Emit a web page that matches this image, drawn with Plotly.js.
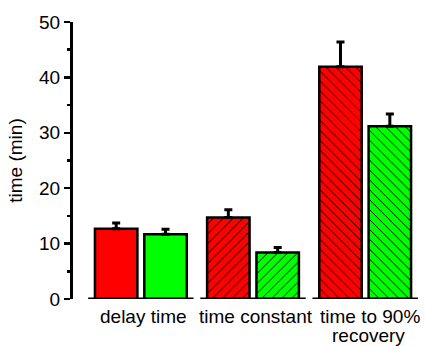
<!DOCTYPE html>
<html>
<head>
<meta charset="utf-8">
<script src="https://cdn.plot.ly/plotly-3.0.1.min.js"></script>
<style>html,body{margin:0;padding:0;background:#fff;}#chart{width:425px;height:346px;}</style>
</head>
<body>
<div id="chart"></div>
<script>
const categories = ["delay time", "time constant", "time to 90%<br>recovery"];
const redValues = [12.7, 14.7, 41.9];
const redErrors = [1.0, 1.4, 4.5];
const greenValues = [11.7, 8.4, 31.2];
const greenErrors = [0.9, 0.9, 2.2];
const patternShapes = ["", "/", "\\"];
const yTickVals = [0, 10, 20, 30, 40, 50];

function barTrace(vals, errs, color) {
  return {
    type: "bar",
    x: categories,
    y: vals,
    marker: {
      color: color,
      line: {color: "#000", width: 2.5},
      pattern: {shape: patternShapes, fgcolor: "#000", bgcolor: color, size: 7, solidity: 0.14}
    },
    error_y: {
      type: "data", symmetric: false, array: errs, arrayminus: errs.map(() => 0),
      color: "#000", thickness: 3, width: 4
    },
    hoverinfo: "none"
  };
}

const data = [barTrace(redValues, redErrors, "#ff0000"), barTrace(greenValues, greenErrors, "#00ff00")];

const shapes = categories.map((c, i) => ({
  type: "line", xref: "x", yref: "y",
  x0: i - 0.47, x1: i + 0.47, y0: 0, y1: 0,
  line: {color: "#000", width: 3}
}));

// category labels drawn as annotations to allow tighter line spacing
const annotations = [];
categories.forEach((c, i) => {
  c.split("<br>").forEach((line, j) => {
    annotations.push({
      text: line, xref: "x", yref: "y", x: i, y: 0,
      xanchor: "center", yanchor: "top", showarrow: false,
      xshift: 3 + (i === 2 ? 2 : 0) - (j === 1 ? 2 : 0), yshift: -5 - j * 19,
      font: {size: 19, color: "#000"}
    });
  });
});

const layout = {
  width: 425, height: 346,
  margin: {l: 73, r: 6, t: 22, b: 47},
  paper_bgcolor: "#fff", plot_bgcolor: "#fff",
  showlegend: false,
  barmode: "group",
  bargap: 0.12,
  bargroupgap: 0.14,
  font: {family: "Liberation Sans, Arial, sans-serif", size: 19, color: "#000"},
  xaxis: {
    type: "category",
    range: [-0.605, 2.48],
    showline: false, showgrid: false, zeroline: false,
    ticks: "", showticklabels: false,
    automargin: false
  },
  yaxis: {
    range: [0, 50],
    tickvals: yTickVals,
    showline: true, linecolor: "#000", linewidth: 3,
    ticks: "outside", ticklen: 6, tickwidth: 2.5, tickcolor: "#000",
    minor: {dtick: 5, tick0: 0, ticks: "outside", ticklen: 3, tickwidth: 2.5, tickcolor: "#000", showgrid: false},
    showgrid: false, zeroline: false,
    tickfont: {size: 19},
    title: {text: "time (min)", font: {size: 19}, standoff: 12},
    automargin: false
  },
  shapes: shapes,
  annotations: annotations
};

Plotly.newPlot("chart", data, layout, {displayModeBar: false, staticPlot: true});
</script>
</body>
</html>
